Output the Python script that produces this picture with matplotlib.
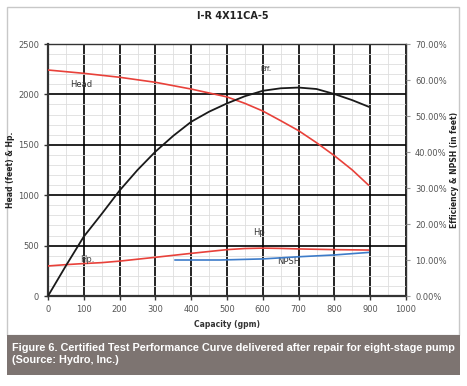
import matplotlib
matplotlib.use("Agg")
import matplotlib.pyplot as plt
from matplotlib.patches import Rectangle
from matplotlib.ticker import MultipleLocator, FuncFormatter

# ---- data ----
title = "I-R 4X11CA-5"
capacity_head = [0, 100, 200, 300, 400, 500, 550, 600, 650, 700, 750, 800, 850, 895]
head = [2242, 2209, 2170, 2120, 2053, 1975, 1911, 1835, 1739, 1640, 1521, 1392, 1250, 1101]
capacity_eff = [0, 50, 100, 150, 200, 250, 300, 350, 400, 450, 500, 550, 600, 650, 700, 750,
                800, 850, 895]
efficiency = [0, 8.4, 16.5, 22.8, 29.3, 35.0, 40.1, 44.5, 48.4, 51.2, 53.5, 55.5, 57.0, 57.7,
              57.9, 57.5, 56.1, 54.4, 52.6]
capacity_hp = [0, 50, 100, 150, 200, 300, 400, 500, 550, 600, 650, 700, 800, 895]
hp = [298, 311, 322, 331, 346, 384, 423, 460, 471, 475, 472, 467, 460, 456]
capacity_npsh = [355, 480, 600, 700, 800, 895]
npsh = [10.0, 10.0, 10.3, 10.9, 11.4, 12.1]
x_label = "Capacity (gpm)"
y_label = "Head (feet) & Hp."
y2_label = "Efficiency & NPSH (in feet)"
caption = ("Figure 6. Certified Test Performance Curve delivered after repair for eight-stage pump\n"
           "(Source: Hydro, Inc.)")

W, H = 467, 386
fig = plt.figure(figsize=(W / 100, H / 100), dpi=100)

# outer border and caption box
fig.patches.append(Rectangle((7 / W, 1 - 335 / H), 452 / W, 328 / H, transform=fig.transFigure,
                             facecolor="white", edgecolor="#c8c8c8", linewidth=1.0, zorder=-3))
fig.patches.append(Rectangle((7 / W, 1 - 375 / H), 453 / W, 40 / H, transform=fig.transFigure,
                             facecolor="#7d7471", edgecolor="none", zorder=-2))

ax = fig.add_axes([48 / W, 1 - 296 / H, 358 / W, 252 / H])
ax.set_xlim(0, 1000)
ax.set_ylim(0, 2500)
ax.xaxis.set_major_locator(MultipleLocator(100))
ax.xaxis.set_minor_locator(MultipleLocator(50))
ax.yaxis.set_major_locator(MultipleLocator(500))
ax.yaxis.set_minor_locator(MultipleLocator(100))
ax.grid(which="major", color="black", linewidth=1.2, zorder=1)
ax.grid(which="minor", color="#dedede", linewidth=0.6, zorder=0)
ax.set_axisbelow(True)
for s in ax.spines.values():
    s.set_color("#333333")
    s.set_linewidth(1.0)
ax.spines["left"].set_linewidth(1.6)
ax.spines["bottom"].set_linewidth(1.6)
ax.tick_params(which="minor", length=0)
ax.tick_params(which="major", labelsize=6, labelcolor="#555555", length=3, width=1, color="#333333")

ax.plot(capacity_head, head, color="#e8413a", linewidth=1.2, zorder=3)
ax.plot(capacity_hp, hp, color="#e8413a", linewidth=1.2, zorder=3)

ax2 = ax.twinx()
ax2.set_ylim(0, 70)
ax2.yaxis.set_major_locator(MultipleLocator(10))
ax2.yaxis.set_major_formatter(FuncFormatter(lambda v, p: f"{v:.2f}%"))
ax2.tick_params(labelsize=6, labelcolor="#555555", length=3, width=0.8, color="#999999")
for s in ax2.spines.values():
    s.set_visible(False)
ax2.plot(capacity_eff, efficiency, color="#1a1a1a", linewidth=1.3, zorder=3)
ax2.plot(capacity_npsh, npsh, color="#3d7cc9", linewidth=1.2, zorder=3)

# curve labels
ax.text(92, 2097, "Head", fontsize=6, color="#333333", ha="center", va="center")
ax.text(609, 2249, "Eff.", fontsize=5, color="#333333", ha="center", va="center")
ax.text(590, 632, "Hp", fontsize=6, color="#333333", ha="center", va="center")
ax.text(111, 367, "Hp.", fontsize=6, color="#444444", ha="center", va="center")
ax.text(671, 340, "NPSH", fontsize=6, color="#333333", ha="center", va="center")

ax.set_xlabel(x_label, fontsize=5.5, fontweight="bold", color="#333333", labelpad=4)
ax.set_ylabel(y_label, fontsize=5.5, fontweight="bold", color="#222222", labelpad=2)
ax2.set_ylabel(y2_label, fontsize=5.5, fontweight="bold", color="#222222", labelpad=2)

fig.text(233 / W, 1 - 16 / H, title, fontsize=7, fontweight="bold", color="#222222",
         ha="center", va="center")
fig.text(12 / W, 1 - 354 / H, caption, fontsize=7.8, fontweight="bold", color="white",
         family=["Liberation Sans Narrow", "Liberation Sans", "DejaVu Sans"], ha="left", va="center",
         linespacing=1.2)

fig.savefig("out.png", dpi=100)
